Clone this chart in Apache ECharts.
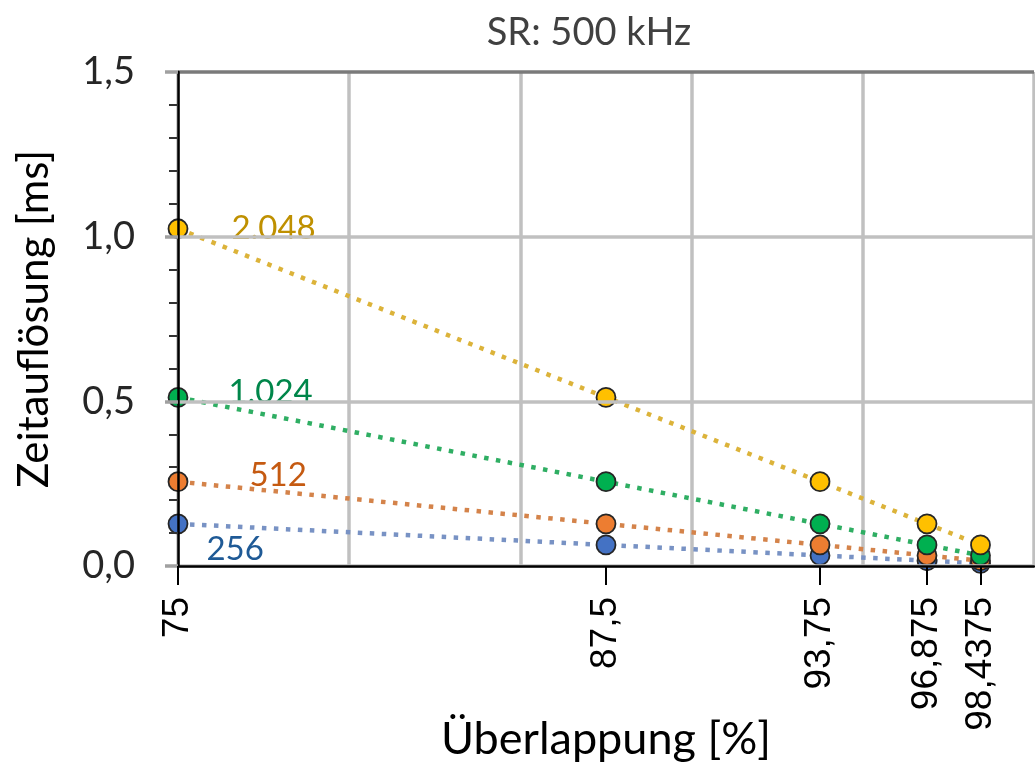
<!DOCTYPE html>
<html>
<head>
<meta charset="utf-8">
<script src="https://cdn.jsdelivr.net/npm/echarts@6/dist/echarts.min.js"></script>
<style>
  html, body { margin: 0; padding: 0; background: #fff; }
  #chart { width: 1035px; height: 763px; }
</style>
</head>
<body>
<div id="chart"></div>
<script>
// Overlap values (%) shown as x tick labels
const overlap = [75, 87.5, 93.75, 96.875, 98.4375];

// Time resolution (ms) at 500 kHz for each FFT window length
const res256  = [0.128, 0.064, 0.032, 0.016, 0.008];
const res512  = [0.256, 0.128, 0.064, 0.032, 0.016];
const res1024 = [0.512, 0.256, 0.128, 0.064, 0.032];
const res2048 = [1.024, 0.512, 0.256, 0.128, 0.064];

const seriesNames = ['256', '512', '1.024', '2.048'];
const yTicks = [0, 0.5, 1.0, 1.5];

const comma = v => String(v).replace('.', ',');

function makeSeries(name, values, fill, lineColor, labelColor, offset) {
  return {
    name: name,
    type: 'line',
    xAxisIndex: 0,
    data: values.map((v, i) => {
      const item = { value: [overlap[i], v] };
      if (i === 0) {
        item.label = {
          show: true,
          position: 'right',
          distance: 5,
          offset: offset,
          formatter: name,
          color: labelColor,
          fontFamily: 'Lato',
          fontSize: 33
        };
      }
      return item;
    }),
    symbol: 'circle',
    symbolSize: 19,
    itemStyle: { color: fill, borderColor: '#262626', borderWidth: 1.8 },
    lineStyle: { color: lineColor, width: 4.5, type: [4.5, 7.5], cap: 'butt' },
    label: { show: false },
    emphasis: { disabled: true },
    animation: false,
    z: 3
  };
}

const chart = echarts.init(document.getElementById('chart'), null, { renderer: 'canvas' });
chart.setOption({
  animation: false,
  backgroundColor: '#ffffff',
  title: {
    text: 'SR: 500 kHz',
    left: 584,
    top: 9,
    textAlign: 'center',
    textStyle: { fontFamily: 'Lato', fontSize: 38, fontWeight: 'normal', color: '#404040' }
  },
  grid: { left: 178, right: 1, top: 72, bottom: 197, containLabel: false, outerBoundsMode: 'none' },
  xAxis: [
    {
      type: 'value',
      min: 75,
      max: 100,
      name: 'Überlappung [%]',
      nameLocation: 'middle',
      nameGap: 151,
      nameMoveOverlap: false,
      nameTextStyle: { fontFamily: 'Lato', fontSize: 45, color: '#000' },
      axisLine: { show: true, onZero: false, lineStyle: { color: '#000', width: 2.5 } },
      axisTick: {
        show: true,
        customValues: overlap,
        length: 19,
        lineStyle: { color: '#000', width: 2 }
      },
      axisLabel: {
        customValues: overlap,
        rotate: 90,
        margin: 31,
        formatter: v => comma(v),
        fontFamily: 'Liberation Sans',
        fontSize: 37,
        color: '#000'
      },
      splitLine: { show: false },
      z: 5
    },
    {
      // grid columns every 5 %
      type: 'value',
      min: 75,
      max: 100,
      interval: 5,
      position: 'bottom',
      axisLine: { show: false },
      axisTick: { show: false },
      axisLabel: { show: false },
      splitLine: { show: true, lineStyle: { color: '#c0c0c0', width: 3.5 } }
    }
  ],
  yAxis: {
    type: 'value',
    min: 0,
    max: 1.5,
    interval: 0.5,
    name: 'Zeitauflösung [ms]',
    nameLocation: 'middle',
    nameGap: 123,
    nameMoveOverlap: false,
    nameTextStyle: { fontFamily: 'Lato', fontSize: 42, color: '#000' },
    axisLine: { show: true, lineStyle: { color: '#000', width: 2.5 } },
    axisTick: { show: true, length: 13, lineStyle: { color: '#a0a0a0', width: 3.5 } },
    minorTick: { show: true, splitNumber: 5, length: 9, lineStyle: { color: '#333', width: 2 } },
    axisLabel: {
      margin: 43,
      formatter: v => comma(v.toFixed(1)),
      fontFamily: 'Lato',
      fontSize: 38,
      color: '#262626'
    },
    splitLine: {
      show: true,
      lineStyle: { color: yTicks.map(t => t === 1.5 ? '#7a7a7a' : '#c0c0c0'), width: 3.5 }
    },
    z: 5
  },
  series: [
    makeSeries(seriesNames[0], res256,  '#4472C4', '#7892c4', '#1f5a96', [13, 26]),
    makeSeries(seriesNames[1], res512,  '#ED7D31', '#d4834a', '#c55a11', [56, -6]),
    makeSeries(seriesNames[2], res1024, '#00B050', '#2fae63', '#00864a', [35, -5]),
    makeSeries(seriesNames[3], res2048, '#FFC000', '#dcb33a', '#bf9000', [38, 0])
  ]
});
</script>
</body>
</html>
